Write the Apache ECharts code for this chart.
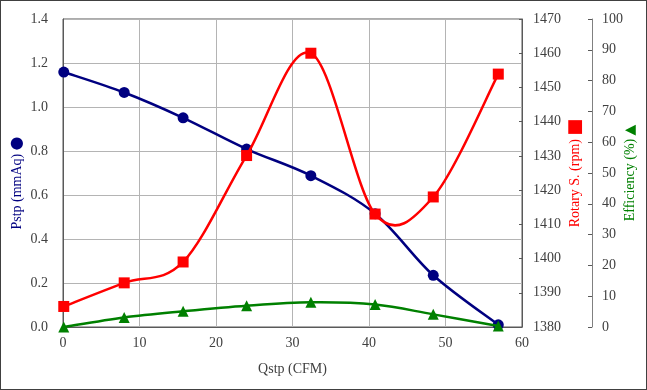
<!DOCTYPE html>
<html>
<head>
<meta charset="utf-8">
<script src="https://cdn.jsdelivr.net/npm/echarts@6/dist/echarts.min.js"></script>
<style>
html,body{margin:0;padding:0;background:#fff;}
#wrap{position:relative;width:647px;height:390px;}
#chart{position:absolute;left:0;top:0;width:647px;height:390px;}
#frame{position:absolute;left:0;top:0;width:647px;height:390px;box-sizing:border-box;border:1px solid #404040;pointer-events:none;}
</style>
</head>
<body>
<div id="wrap"><div id="chart"></div><div id="frame"></div></div>
<script>
// Data
const qstp = [0.1, 8.0, 15.7, 24.0, 32.4, 40.8, 48.4, 56.9];
const pstp = [1.159, 1.066, 0.951, 0.809, 0.688, 0.515, 0.235, 0.01];
const rotary = [1386.0, 1392.9, 1399.0, 1430.1, 1460.0, 1413.0, 1418.0, 1453.9];
const efficiency = [0, 3.1, 5.1, 6.9, 8.0, 7.3, 4.1, 0.3];

const pair = (ys) => qstp.map((x, i) => [x, ys[i]]);

const FONT = '"Liberation Serif", "Times New Roman", serif';
const labelColor = '#404040';

// Smoothed line (spreadsheet-style cardinal spline) drawn through the axes' own scales via api.coord
function smoothLine(ys, color, yAxisIndex, z) {
  const n = qstp.length;
  return {
    type: 'custom', yAxisIndex: yAxisIndex, z: z, silent: true,
    data: pair(ys),
    renderItem: function (params, api) {
      if (params.dataIndex !== 0) return null;
      const P = k => {
        const j = Math.max(0, Math.min(n - 1, k));
        return api.coord([qstp[j], ys[j]]);
      };
      const children = [];
      for (let i = 0; i < n - 1; i++) {
        const p0 = P(i - 1), p1 = P(i), p2 = P(i + 1), p3 = P(i + 2);
        children.push({
          type: 'bezierCurve',
          shape: {
            x1: p1[0], y1: p1[1], x2: p2[0], y2: p2[1],
            cpx1: p1[0] + (p2[0] - p0[0]) / 6, cpy1: p1[1] + (p2[1] - p0[1]) / 6,
            cpx2: p2[0] - (p3[0] - p1[0]) / 6, cpy2: p2[1] - (p3[1] - p1[1]) / 6
          },
          style: {stroke: color, lineWidth: 2.5, fill: 'none', lineCap: 'round'}
        });
      }
      return {type: 'group', children: children};
    }
  };
}

function markers(ys, color, symbol, size, yAxisIndex, z) {
  return {
    type: 'scatter', yAxisIndex: yAxisIndex, z: z, data: pair(ys),
    symbol: symbol, symbolSize: size, itemStyle: {color: color, opacity: 1}
  };
}

const chart = echarts.init(document.getElementById('chart'), null, {renderer: 'canvas'});
chart.setOption({
  animation: false,
  backgroundColor: '#fff',
  grid: {left: 63, right: 125, top: 19, bottom: 63, show: true, borderColor: '#595959', borderWidth: 1,
         containLabel: false, outerBoundsMode: 'none'},
  xAxis: {
    type: 'value', min: 0, max: 60, interval: 10,
    name: 'Qstp (CFM)', nameLocation: 'middle', nameGap: 35, nameMoveOverlap: false,
    nameTextStyle: {fontFamily: FONT, fontSize: 14, color: labelColor},
    axisLine: {show: true, lineStyle: {color: '#595959', width: 1}},
    axisTick: {show: false},
    axisLabel: {fontFamily: FONT, fontSize: 14, color: labelColor, margin: 9},
    splitLine: {show: true, lineStyle: {color: '#b4b4b4', width: 1}}
  },
  yAxis: [
    {
      type: 'value', min: 0, max: 1.4, interval: 0.2, position: 'left',
      name: '{t|Pstp (mmAq)} {m|●}', nameLocation: 'middle', nameGap: 38, nameRotate: 90, nameMoveOverlap: false,
      nameTextStyle: {
        padding: [0, 20, 0, 0],
        rich: {
          t: {fontFamily: FONT, fontSize: 14, color: '#000080'},
          m: {fontFamily: 'DejaVu Sans', fontSize: 16, color: '#000080'}
        }
      },
      axisLine: {show: true, lineStyle: {color: '#595959', width: 1}},
      axisTick: {show: false},
      axisLabel: {fontFamily: FONT, fontSize: 14, color: labelColor, margin: 15, formatter: v => v.toFixed(1)},
      splitLine: {show: true, lineStyle: {color: '#b4b4b4', width: 1}}
    },
    {
      type: 'value', min: 1380, max: 1470, interval: 10, position: 'right',
      name: '{t|Rotary S. (rpm)} {m|■}', nameLocation: 'middle', nameGap: 44, nameRotate: 90, nameMoveOverlap: false,
      nameTextStyle: {
        rich: {
          t: {fontFamily: FONT, fontSize: 14, color: '#ff0000'},
          m: {fontFamily: 'DejaVu Sans', fontSize: 18, color: '#ff0000'}
        }
      },
      axisLine: {show: true, lineStyle: {color: '#595959', width: 1}},
      axisTick: {show: true, inside: true, length: 3, lineStyle: {color: '#595959'}},
      axisLabel: {fontFamily: FONT, fontSize: 14, color: labelColor, margin: 11, formatter: v => String(v)},
      splitLine: {show: false}
    },
    {
      type: 'value', min: 0, max: 100, interval: 10, position: 'right', offset: 70,
      name: '{t|Efficiency (%)} {m|▲}', nameLocation: 'middle', nameGap: 31, nameRotate: 90, nameMoveOverlap: false,
      nameTextStyle: {
        rich: {
          t: {fontFamily: FONT, fontSize: 14, color: '#008000'},
          m: {fontFamily: 'DejaVu Sans', fontSize: 14, color: '#008000'}
        }
      },
      axisLine: {show: true, lineStyle: {color: '#808080', width: 1}},
      axisTick: {show: true, inside: true, length: 4, lineStyle: {color: '#595959'}},
      axisLabel: {fontFamily: FONT, fontSize: 14, color: labelColor, margin: 10, formatter: v => String(v)},
      splitLine: {show: false}
    }
  ],
  series: [
    smoothLine(pstp, '#000080', 0, 2),
    markers(pstp, '#000080', 'circle', 11, 0, 3),
    smoothLine(rotary, '#ff0000', 1, 4),
    markers(rotary, '#ff0000', 'rect', 11, 1, 5),
    smoothLine(efficiency, '#008000', 2, 6),
    markers(efficiency, '#008000', 'triangle', 11, 2, 7)
  ]
});
</script>
</body>
</html>
